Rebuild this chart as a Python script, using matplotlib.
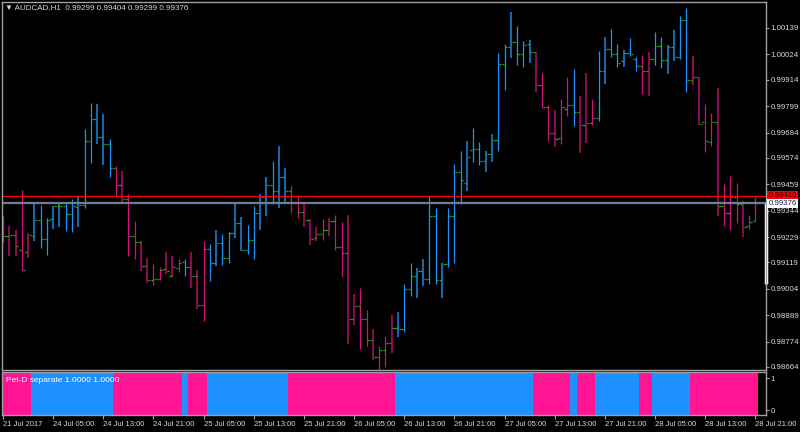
import matplotlib
matplotlib.use("Agg")
import matplotlib.pyplot as plt
import numpy as np
from matplotlib import font_manager

# AUDCAD H1 bars, prices in points (1e-5)
opens = [99240, 99234, 99238, 99173, 99164, 99233, 99302, 99220, 99308, 99363,
         99363, 99328, 99359, 99370, 99646, 99742, 99663, 99636, 99529, 99455,
         99394, 99233, 99209, 99103, 99041, 99046, 99089, 99060, 99096, 99121,
         99098, 99059, 98932, 99176, 99115, 99202, 99137, 99246, 99289, 99172,
         99217, 99333, 99404, 99455, 99431, 99492, 99428, 99376, 99338, 99302,
         99225, 99243, 99261, 99298, 99185, 99159, 98872, 98928, 98872, 98783,
         98709, 98738, 98770, 98834, 98828, 99002, 99059, 99080, 99048, 99322,
         99041, 99113, 99320, 99512, 99465, 99608, 99614, 99559, 99592, 99650,
         99984, 100055, 100077, 100025, 100068, 100033, 99891, 99795, 99681, 99659,
         99787, 99805, 99775, 99717, 99724, 99749, 99951, 100046, 100025, 99997,
         100029, 100005, 99975, 99951, 100004, 100059, 100001, 100055, 100014, 100172,
         99911, 99924, 99730, 99643, 99730, 99366, 99333, 99404, 99373, 99277,
         99299]
highs = [99322, 99279, 99260, 99434, 99246, 99373, 99369, 99314, 99366, 99381,
         99381, 99395, 99408, 99698, 99811, 99808, 99763, 99656, 99540, 99517,
         99418, 99299, 99212, 99138, 99112, 99098, 99163, 99146, 99134, 99133,
         99166, 99087, 99214, 99200, 99259, 99243, 99251, 99382, 99317, 99282,
         99364, 99417, 99491, 99562, 99624, 99531, 99453, 99408, 99373, 99307,
         99274, 99307, 99312, 99324, 99295, 99325, 98982, 99008, 98911, 98829,
         98757, 98800, 98890, 98902, 99025, 99115, 99095, 99134, 99407, 99356,
         99115, 99356, 99547, 99605, 99647, 99703, 99644, 99604, 99679, 100030,
         100071, 100207, 100146, 100084, 100087, 100036, 99943, 99804, 99784, 99829,
         99926, 99961, 99843, 99943, 99829, 100039, 100099, 100135, 100071, 100043,
         100094, 100012, 100022, 100033, 100120, 100099, 100066, 100129, 100193, 100227,
         100018, 99927, 99808, 99770, 99879, 99460, 99495, 99466, 99388, 99325,
         99404]
lows = [99209, 99147, 99147, 99083, 99140, 99214, 99183, 99151, 99264, 99274,
        99256, 99253, 99273, 99357, 99553, 99634, 99542, 99491, 99408, 99382,
        99148, 99135, 99082, 99031, 99019, 99041, 99070, 99057, 99079, 99061,
        99009, 98918, 98864, 99039, 99103, 99108, 99117, 99225, 99170, 99157,
        99135, 99261, 99322, 99373, 99356, 99381, 99335, 99314, 99273, 99196,
        99214, 99217, 99235, 99173, 99054, 98765, 98848, 98744, 98757, 98693,
        98644, 98665, 98726, 98796, 98818, 98974, 98964, 99018, 99024, 99026,
        98966, 99100, 99115, 99373, 99430, 99555, 99544, 99511, 99557, 99603,
        99869, 100010, 99978, 99968, 99988, 99862, 99791, 99647, 99620, 99634,
        99757, 99713, 99596, 99637, 99716, 99736, 99897, 100014, 99968, 99968,
        100018, 99953, 99853, 99842, 99979, 99964, 99940, 99997, 100004, 99859,
        99892, 99717, 99599, 99627, 99321, 99279, 99259, 99292, 99231, 99263,
        99299]
closes = [99234, 99240, 99189, 99086, 99237, 99302, 99222, 99305, 99363, 99363,
          99328, 99363, 99370, 99646, 99742, 99663, 99636, 99529, 99455, 99394,
          99233, 99209, 99103, 99041, 99046, 99086, 99080, 99099, 99118, 99098,
          99059, 98932, 99176, 99115, 99202, 99137, 99246, 99289, 99172, 99217,
          99333, 99404, 99455, 99431, 99492, 99428, 99376, 99338, 99302, 99222,
          99243, 99261, 99298, 99185, 99159, 98872, 98928, 98872, 98783, 98709,
          98738, 98770, 98834, 98828, 99002, 99059, 99080, 99048, 99322, 99041,
          99113, 99320, 99512, 99476, 99578, 99614, 99562, 99592, 99650, 99984,
          100058, 100077, 100025, 100064, 100033, 99891, 99795, 99681, 99656, 99797,
          99805, 99775, 99717, 99724, 99749, 99951, 100046, 100025, 99988, 100029,
          100025, 99975, 99951, 100004, 100059, 100001, 100055, 100014, 100172, 99911,
          99924, 99721, 99646, 99730, 99366, 99333, 99404, 99373, 99274, 99296,
          99376]

# Pet-D trend state per bar: 1 = blue, 0 = pink
trend = ([0] * 5 + [1] * 13 + [0] * 11 + [1] + [0] * 3 + [1] * 13 + [0] * 17 +
         [1] * 22 + [0] * 6 + [1] + [0] * 3 + [1] * 7 + [0] * 2 + [1] * 6 + [0] * 11)
# bar shade: 1 = bright, 0 = dark
bright = [1, 0, 0, 1, 0,
          0, 1, 1, 0, 0, 1, 1, 0, 1, 1, 0, 0, 1,
          1, 0, 1, 1, 0, 0, 1, 1, 0, 0, 1,
          1,
          0, 0, 1,
          1, 0, 1, 1, 0, 0, 1, 1, 0, 0, 1, 0, 0,
          1, 1, 0, 0, 0, 1, 0, 1, 1, 0, 0, 1, 1, 0, 1, 1, 0,
          0, 1, 1, 0, 0, 1, 1, 0, 1, 1, 1, 0, 1, 1, 0, 0, 1, 1, 0, 1, 1, 0,
          0, 1, 1, 0, 1, 1,
          1,
          0, 0, 1,
          1, 0, 1, 1, 0, 1, 1,
          1, 0,
          1, 1, 0, 0, 1, 1,
          0, 0, 1, 1, 0, 1, 1, 1, 0, 1, 1]

price_ticks = [1.00139, 1.00024, 0.99914, 0.99799, 0.99684, 0.99574, 0.99459,
               0.99344, 0.99229, 0.99119, 0.99004, 0.98889, 0.98774, 0.98664]
time_labels = ["21 Jul 2017", "24 Jul 05:00", "24 Jul 13:00", "24 Jul 21:00",
               "25 Jul 05:00", "25 Jul 13:00", "25 Jul 21:00", "26 Jul 05:00",
               "26 Jul 13:00", "26 Jul 21:00", "27 Jul 05:00", "27 Jul 13:00",
               "27 Jul 21:00", "28 Jul 05:00", "28 Jul 13:00", "28 Jul 21:00"]
bid = 0.99410
last = 0.99376

W, H = 800, 432
names = {f.name for f in font_manager.fontManager.ttflist}
font = "Liberation Sans Narrow" if "Liberation Sans Narrow" in names else "Liberation Sans"
plt.rcParams['font.family'] = [font, 'DejaVu Sans']
fs = 5.7


def box(x0, y0, x1, y1):
    return [x0 / W, 1 - y1 / H, (x1 - x0) / W, (y1 - y0) / H]


o = np.array(opens) / 1e5
h = np.array(highs) / 1e5
l = np.array(lows) / 1e5
c = np.array(closes) / 1e5
x = np.arange(len(o))

cols = []
lws = []
for t, b in zip(trend, bright):
    if t == 1:
        cols.append('#1e90ff' if b else '#1866aa')
    else:
        cols.append('#d4107c' if b else '#8a0a52')
    lws.append(0.9 if b else 1.5)

fig = plt.figure(figsize=(8, 4.32), dpi=100, facecolor='black')
ax = fig.add_axes(box(2, 2, 766, 370))
ax2 = fig.add_axes(box(2, 372, 766, 415))

grey = '#a0a0a0'
txt = '#d8d8d8'
for a in (ax, ax2):
    a.set_facecolor('black')
    for s in a.spines.values():
        s.set_color(grey)
        s.set_linewidth(1.0)
    a.set_xlim(-0.16, 121.7)

# main price panel
ax.set_ylim(0.986509, 1.002521)
ax.vlines(x, l, h, colors=cols, linewidths=lws)
ax.hlines(o, x - 0.45, x - 0.12, colors='#18b018', linewidths=0.9)
ax.hlines(c, x + 0.12, x + 0.45, colors='#18b018', linewidths=0.9)
ax.axhline(bid, color='#ff0000', lw=0.9)
ax.axhline(last, color='#708090', lw=1.6)

ax.yaxis.tick_right()
ax.set_yticks(price_ticks)
ax.set_yticklabels([f"{p:.5f}" for p in price_ticks])
ax.tick_params(axis='y', colors=grey, labelcolor=txt, labelsize=fs, length=2.5,
               width=0.8, pad=1)
ax.tick_params(axis='x', bottom=False, labelbottom=False)

tr = ax.get_yaxis_transform()
ax.plot([1.0, 1.0], [0.99378, 0.99025], transform=tr, color='white', lw=2.5,
        clip_on=False, solid_capstyle='butt')
ax.text(1.003, bid, f"{bid:.5f}", transform=tr, ha='left', va='center',
        fontsize=fs, color='#200000',
        bbox=dict(boxstyle='square,pad=0.15', fc='#ff0000', ec='none'))
ax.text(1.003, last, f"{last:.5f}", transform=tr, ha='left', va='center',
        fontsize=fs, color='#102060',
        bbox=dict(boxstyle='square,pad=0.15', fc='white', ec='none'))

fig.text(5 / W, 1 - 8 / H, "\u25bc AUDCAD,H1  0.99299 0.99404 0.99299 0.99376",
         color=txt, fontsize=5.8, va='center', ha='left')

# Pet-D separate panel
ind_cols = ['#1e90ff' if t == 1 else '#ff1493' for t in trend]
ax2.bar(x, 3, bottom=-1, width=1.0, color=ind_cols, linewidth=0)
ax2.set_ylim(-0.156, 1.1875)
ax2.yaxis.tick_right()
ax2.set_yticks([0, 1])
ax2.set_yticklabels(["0", "1"])
ax2.tick_params(axis='y', colors=grey, labelcolor=txt, labelsize=fs, length=2.5,
                width=0.8, pad=1)
ax2.set_xticks(np.arange(0, 121, 8))
ax2.set_xticklabels(time_labels, ha='left')
ax2.tick_params(axis='x', colors=grey, labelcolor=txt, labelsize=5.5, length=3,
                width=0.8, pad=1)
fig.text(6 / W, 1 - 380 / H, "Pet-D separate 1.0000 1.0000", color='white',
         fontsize=6, va='center', ha='left')

fig.savefig("out.png", dpi=100, facecolor='black')
